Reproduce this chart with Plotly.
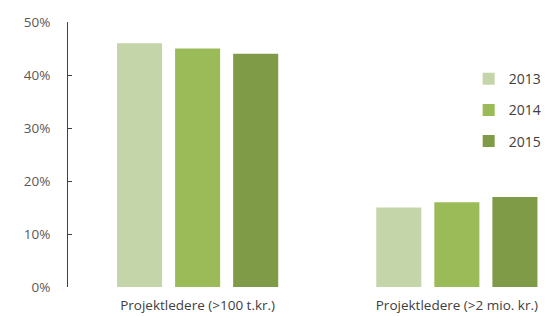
import plotly.graph_objects as go

categories = ["Projektledere (>100 t.kr.)", "Projektledere (>2 mio. kr.)"]
years = ["2013", "2014", "2015"]
values_2013 = [0.46, 0.15]
values_2014 = [0.45, 0.16]
values_2015 = [0.44, 0.17]
colors = ["#C4D6A9", "#9BBB59", "#7F9B48"]

fig = go.Figure()
for name, vals, col in zip(years, [values_2013, values_2014, values_2015], colors):
    fig.add_trace(go.Bar(x=categories, y=vals, name=name, marker_color=col,
                         marker_line_width=0, legendgroup=name))

fig.update_layout(
    width=543, height=308,
    margin=dict(l=60, r=6, t=14, b=29, autoexpand=False),
    paper_bgcolor="white", plot_bgcolor="white",
    barmode="group", bargap=0.328, bargroupgap=0.224,
    font=dict(family="Open Sans, Liberation Sans, sans-serif", size=13, color="#404040"),
    showlegend=True,
    legend=dict(x=0.84, y=0.845, xanchor="left", yanchor="top",
                tracegroupgap=10, font=dict(size=14, color="#404040"),
                bgcolor="rgba(0,0,0,0)"),
    xaxis=dict(range=[-0.5, 1.34], showline=False, ticks="", showgrid=False,
               tickfont=dict(size=13.5, color="#404040"), ticklabelstandoff=8),
    yaxis=dict(range=[0, 0.5], tickvals=[0, 0.1, 0.2, 0.3, 0.4, 0.5], tickformat=".0%",
               showline=True, linecolor="#404040", linewidth=1,
               ticks="inside", ticklen=4, tickcolor="#404040",
               showgrid=False, zeroline=False,
               tickfont=dict(size=13.5, color="#595959"), ticklabelstandoff=14),
)

fig.write_html("out.html")
